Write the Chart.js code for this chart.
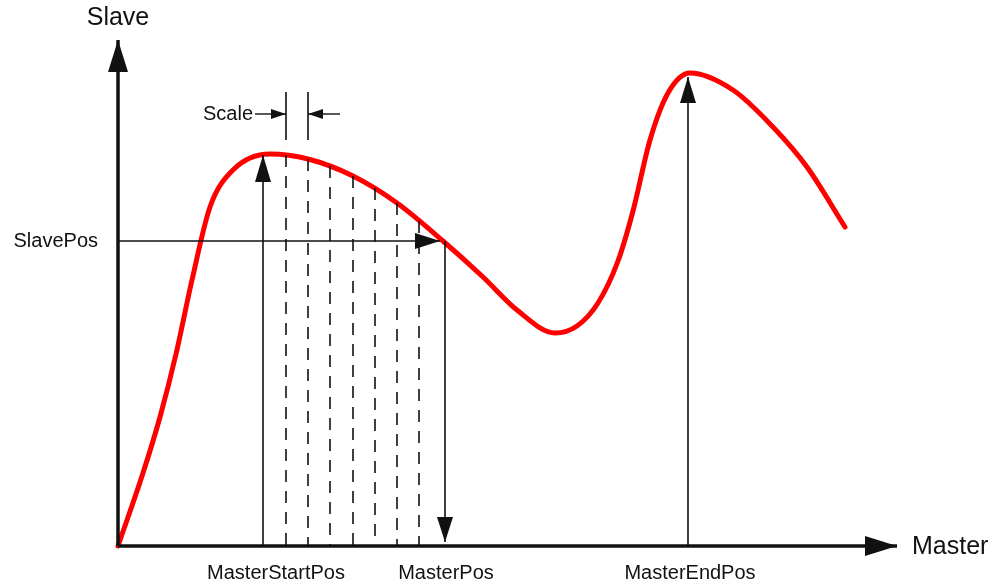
<!DOCTYPE html>
<html lang="en">
  <head>
    <meta charset="UTF-8" />
    <title>Cam profile</title>
    <script src="https://cdn.jsdelivr.net/npm/chart.js"></script>
    <style>
      body { margin: 0; background: #fff; }
    </style>
  </head>
  <body>
    <canvas id="myChart" width="993" height="586"></canvas>

    <script>
      // cam curve: master position -> slave position
      const masterValues = [0, 2.5, 4.2, 5.8, 7.4, 9.2, 11.5, 15.2, 19.0, 23.5, 27.9, 32.5, 36.5, 39.9, 43.7, 45.9, 48.0,
        50.0, 51.5, 53.2, 55.0, 57.2, 61.5, 65.5, 68.9, 72.7];
      const slaveValues = [0, 7.3, 12.9, 19.2, 26.6, 33.9, 37.6, 39.2, 38.7, 37.0, 34.3, 30.5, 26.9, 23.6, 21.3, 22.0, 24.3,
        28.5, 33.5, 40.6, 45.3, 47.3, 45.6, 41.9, 37.9, 31.9];

      // interpolation steps between start and current master position
      const stepMaster = [16.8, 19.0, 21.2, 23.5, 25.7, 27.9, 30.1];
      const stepSlave = [39.1, 38.7, 38.0, 37.0, 35.8, 34.3, 32.5];

      const masterStartPos = 14.5;
      const masterPos = 32.7;
      const slavePos = 30.5;
      const masterEndPos = 57.0;
      const startTip = 39.1;
      const endTip = 46.9;
      const axisEndX = 77.9;
      const axisEndY = 50.6;
      const scaleMarkTop = 45.4;
      const scaleMarkBottom = 40.6;
      const scaleArrowY = 43.2;
      const scaleArrowFrom = [13.7, 22.2];

      const labels = ["Slave", "Master", "SlavePos", "MasterStartPos", "MasterPos", "MasterEndPos", "Scale"];

      const curve = masterValues.map((m, i) => ({ x: m, y: slaveValues[i] }));

      const steps = [];
      stepMaster.forEach((m, i) => {
        steps.push({ x: m, y: stepSlave[i] }, { x: m, y: 0 }, { x: m, y: null });
      });

      function seg(points, width, extra) {
        return Object.assign(
          {
            data: points,
            showLine: true,
            borderColor: "#111",
            backgroundColor: "#111",
            borderWidth: width,
            pointRadius: 0,
            borderCapStyle: "butt",
            clip: false,
          },
          extra || {}
        );
      }

      const datasets = [
        // axes
        seg([{ x: 0, y: 0 }, { x: axisEndX, y: 0 }], 3.5, { arrow: [32, 10] }),
        seg([{ x: 0, y: 0 }, { x: 0, y: axisEndY }], 3.5, { arrow: [32, 10] }),
        // marker arrows
        seg([{ x: masterStartPos, y: 0 }, { x: masterStartPos, y: startTip }], 1.6, { arrow: [27, 8] }),
        seg([{ x: 0, y: slavePos }, { x: masterPos - 0.5, y: slavePos }], 1.6, { arrow: [25, 8] }),
        seg([{ x: masterPos, y: slavePos }, { x: masterPos, y: 0.4 }], 1.6, { arrow: [25, 8] }),
        seg([{ x: masterEndPos, y: 0 }, { x: masterEndPos, y: endTip }], 1.6, { arrow: [26, 8] }),
        // dashed steps
        seg(steps, 1.6, { borderDash: [12, 9], spanGaps: false }),
        // scale markers
        seg([{ x: stepMaster[0], y: scaleMarkTop }, { x: stepMaster[0], y: scaleMarkBottom }], 1.6),
        seg([{ x: stepMaster[1], y: scaleMarkTop }, { x: stepMaster[1], y: scaleMarkBottom }], 1.6),
        seg([{ x: scaleArrowFrom[0], y: scaleArrowY }, { x: stepMaster[0], y: scaleArrowY }], 1.4, { arrow: [15, 5] }),
        seg([{ x: scaleArrowFrom[1], y: scaleArrowY }, { x: stepMaster[1], y: scaleArrowY }], 1.4, { arrow: [15, 5] }),
        // cam curve
        {
          data: curve,
          showLine: true,
          borderColor: "#ff0000",
          borderWidth: 5,
          pointRadius: 0,
          cubicInterpolationMode: "monotone",
          borderCapStyle: "round",
          clip: false,
        },
      ];

      const arrowPlugin = {
        id: "arrowHeads",
        afterDatasetsDraw(chart) {
          const { ctx } = chart;
          chart.data.datasets.forEach((ds, i) => {
            if (!ds.arrow) return;
            const pts = chart.getDatasetMeta(i).data;
            const a = pts[pts.length - 2];
            const b = pts[pts.length - 1];
            const ang = Math.atan2(b.y - a.y, b.x - a.x);
            const [len, half] = ds.arrow;
            ctx.save();
            ctx.translate(b.x, b.y);
            ctx.rotate(ang);
            ctx.beginPath();
            ctx.moveTo(0, 0);
            ctx.lineTo(-len, -half);
            ctx.lineTo(-len, half);
            ctx.closePath();
            ctx.fillStyle = "#111";
            ctx.fill();
            ctx.restore();
          });
        },
      };

      const labelPlugin = {
        id: "labels",
        afterDraw(chart) {
          const { ctx, scales } = chart;
          const px = (v) => scales.x.getPixelForValue(v);
          const py = (v) => scales.y.getPixelForValue(v);
          ctx.save();
          ctx.fillStyle = "#111";
          ctx.textBaseline = "middle";

          ctx.font = "25px 'Liberation Sans', Arial, sans-serif";
          ctx.textAlign = "center";
          ctx.fillText(labels[0], px(0), py(axisEndY) - 22);
          ctx.textAlign = "left";
          ctx.fillText(labels[1], px(axisEndX) + 15, py(0) + 1);

          ctx.font = "20px 'Liberation Sans', Arial, sans-serif";
          ctx.textAlign = "right";
          ctx.fillText(labels[2], px(0) - 20, py(slavePos));
          ctx.textAlign = "center";
          ctx.fillText(labels[3], px(masterStartPos) + 13, py(0) + 27);
          ctx.fillText(labels[4], px(masterPos) + 1, py(0) + 27);
          ctx.fillText(labels[5], px(masterEndPos) + 2, py(0) + 27);
          ctx.textAlign = "right";
          ctx.fillText(labels[6], px(scaleArrowFrom[0]) - 2, py(scaleArrowY));
          ctx.restore();
        },
      };

      new Chart(document.getElementById("myChart"), {
        type: "scatter",
        data: { datasets: datasets },
        options: {
          responsive: false,
          animation: false,
          layout: { padding: { left: 118, right: 75, top: 26, bottom: 40 } },
          scales: {
            x: { type: "linear", min: 0, max: 80, display: false },
            y: { type: "linear", min: 0, max: 52, display: false },
          },
          plugins: { legend: { display: false }, tooltip: { enabled: false } },
        },
        plugins: [arrowPlugin, labelPlugin],
      });
    </script>
  </body>
</html>
